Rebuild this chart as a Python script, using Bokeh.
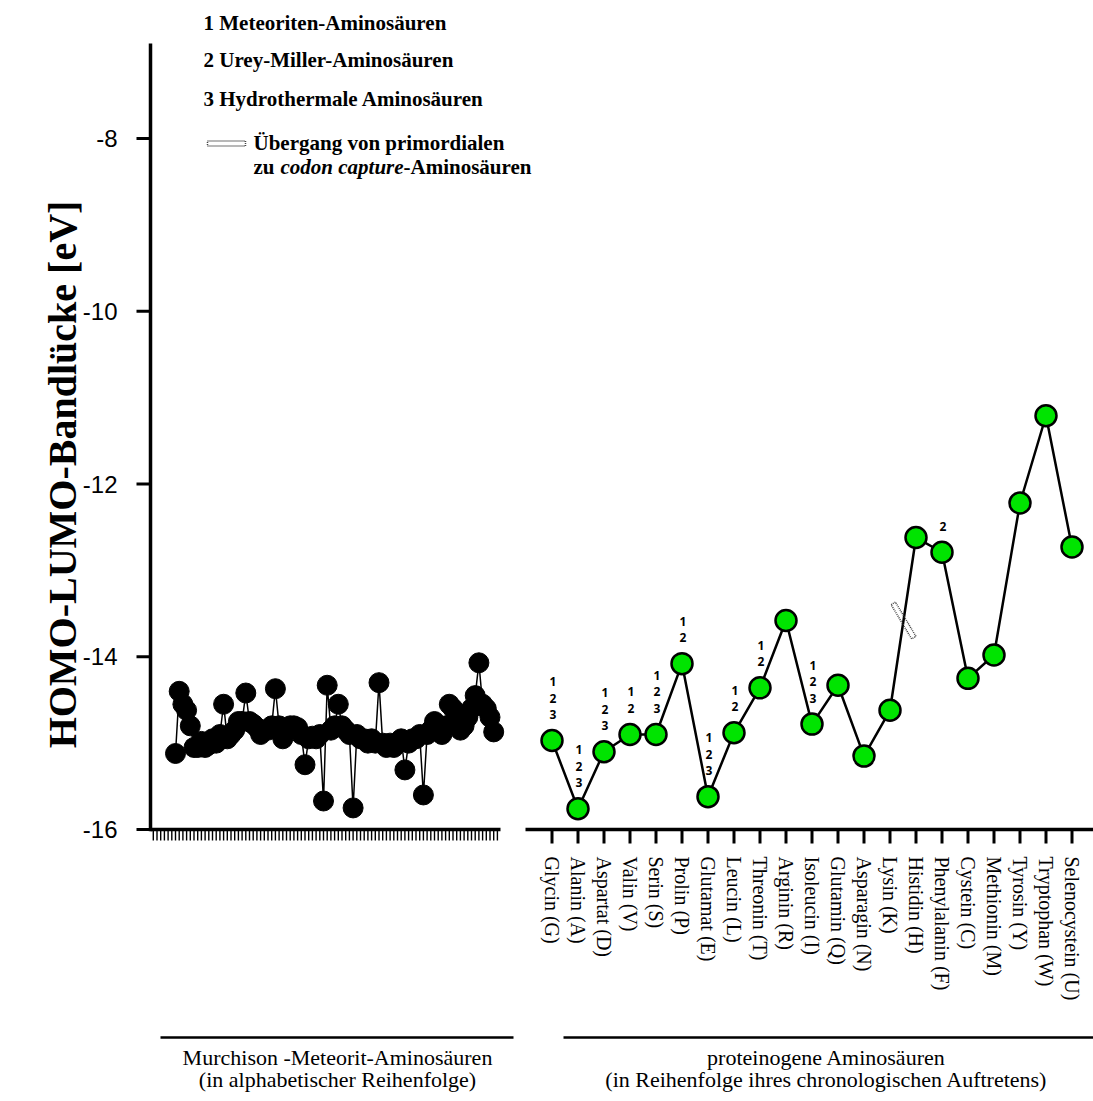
import math
from bokeh.plotting import figure
from bokeh.models import Range1d, Label, ColumnDataSource
from bokeh.embed import file_html
from bokeh.resources import INLINE
from bokeh.core.properties import value

# ---------------- data ----------------
murchison_gap = [
    -15.12, -14.40, -14.55, -14.62, -14.80, -15.05, -15.05, -14.98, -15.05, -15.02,
    -14.95, -15.00, -14.90, -14.55, -14.95, -14.90, -14.85, -14.75, -14.75, -14.42,
    -14.75, -14.78, -14.82, -14.90, -14.85, -14.85, -14.80, -14.37, -14.80, -14.95,
    -14.85, -14.80, -14.80, -14.82, -14.90, -15.25, -14.95, -14.92, -14.95, -14.90,
    -15.67, -14.33, -14.85, -14.80, -14.55, -14.80, -14.85, -14.90, -15.75, -14.90,
    -14.95, -14.95, -15.00, -14.95, -15.00, -14.30, -15.00, -15.05, -15.00, -15.05,
    -15.00, -14.95, -15.31, -15.00, -14.95, -14.95, -14.90, -15.60, -14.90, -14.85,
    -14.75, -14.85, -14.90, -14.80, -14.55, -14.60, -14.70, -14.85, -14.80, -14.70,
    -14.60, -14.45, -14.07, -14.55, -14.60, -14.70, -14.87,
]
murchison_ticks = 94

amino_names = [
    "Glycin (G)", "Alanin (A)", "Aspartat (D)", "Valin (V)", "Serin (S)", "Prolin (P)",
    "Glutamat (E)", "Leucin (L)", "Threonin (T)", "Arginin (R)", "Isoleucin (I)",
    "Glutamin (Q)", "Asparagin (N)", "Lysin (K)", "Histidin (H)", "Phenylalanin (F)",
    "Cystein (C)", "Methionin (M)", "Tyrosin (Y)", "Tryptophan (W)", "Selenocystein (U)",
]
amino_gap = [
    -14.97, -15.76, -15.10, -14.90, -14.90, -14.08, -15.62, -14.88, -14.36, -13.58,
    -14.78, -14.33, -15.15, -14.62, -12.62, -12.79, -14.25, -13.98, -12.22, -11.21, -12.73,
]
origin_marks = [
    "123", "123", "123", "12", "123", "12", "123", "12", "12",
    "", "123", "", "", "", "", "2", "", "", "", "", "",
]
transition_after = 13  # between Lysin and Histidin
y_ticks = [-16, -14, -12, -10, -8]
y_axis_top = -6.9

legend_lines = ["1 Meteoriten-Aminosäuren", "2 Urey-Miller-Aminosäuren", "3 Hydrothermale Aminosäuren"]
legend_trans_1 = "Übergang von primordialen"
legend_trans_2 = ["zu ", "codon capture", "-Aminosäuren"]
y_title = "HOMO-LUMO-Bandlücke [eV]"
group_left = ["Murchison -Meteorit-Aminosäuren", "(in alphabetischer Reihenfolge)"]
group_right = ["proteinogene Aminosäuren", "(in Reihenfolge ihres chronologischen Auftretens)"]

# ---------------- layout helpers (page pixels -> data) ----------------
W, H = 1093, 1100
X0_PAGE, X_STEP = 551.5, 26.0
Y_BASE_PAGE, Y_PX = 829.0, 86.375
AXIS_X = 150
MARK_GAP, MARK_STEP = 26, 16.5


def px2x(px):
    return (px - X0_PAGE) / X_STEP


def px2y(py):
    return -16 + (Y_BASE_PAGE - py) / Y_PX


p = figure(width=W, height=H, x_range=Range1d(px2x(0), px2x(W)),
           y_range=Range1d(px2y(H), px2y(0)),
           x_axis_location=None, y_axis_location=None,
           toolbar_location=None, output_backend="svg",
           min_border=0)
p.outline_line_color = None
p.grid.grid_line_color = None
p.background_fill_color = "white"
p.border_fill_color = "white"

SERIF = value("Liberation Serif")

# ---------------- y axis (drawn) ----------------
ax = px2x(AXIS_X)
p.segment(x0=[ax], y0=[-16 - 1.75 / Y_PX], x1=[ax], y1=[y_axis_top],
          line_color="black", line_width=3.5)
p.segment(x0=[px2x(AXIS_X - 14)] * len(y_ticks), y0=y_ticks,
          x1=[ax] * len(y_ticks), y1=y_ticks, line_color="black", line_width=3)
p.text(x=[ax] * len(y_ticks), y=y_ticks, text=[str(t) for t in y_ticks], x_offset=-33,
       text_align="right", text_baseline="middle", text_font=value("Liberation Sans"),
       text_font_size=value("24px"), text_color="black")
p.add_layout(Label(x=px2x(62), y=px2y(474), text=y_title, angle=math.pi / 2,
                   text_align="center", text_baseline="middle",
                   text_font="Liberation Serif", text_font_style="bold",
                   text_font_size="40px", text_color="black"))

# ---------------- Murchison section ----------------
m_step = 3.7 / X_STEP
m_start = px2x(175)
mx = [m_start + i * m_step for i in range(len(murchison_gap))]
msrc = ColumnDataSource(dict(x=mx, y=murchison_gap))
p.line("x", "y", source=msrc, line_color="black", line_width=1.5)
p.scatter("x", "y", source=msrc, size=20, fill_color="black", line_color="black")

m_tick_x = [m_start + (k - 6) * m_step for k in range(murchison_ticks)]
tick_len_small = 11 / Y_PX
p.segment(x0=m_tick_x, y0=[-16] * len(m_tick_x), x1=m_tick_x,
          y1=[-16 - tick_len_small] * len(m_tick_x), line_color="black", line_width=1.4)
p.segment(x0=[ax], y0=[-16], x1=[px2x(500)], y1=[-16], line_color="black", line_width=3.5)

# ---------------- proteinogenic section ----------------
gx = list(range(len(amino_names)))
gsrc = ColumnDataSource(dict(x=gx, y=amino_gap, name=amino_names))
p.line("x", "y", source=gsrc, line_color="black", line_width=2.5)
p.scatter("x", "y", source=gsrc, size=21, fill_color="#00e400", line_color="black", line_width=2.5)

# origin digits stacked above the points (one glyph row per digit)
dx, dy, dt, doff = [], [], [], []
for i, mark in enumerate(origin_marks):
    for j, d in enumerate(reversed(mark)):
        dx.append(gx[i])
        dy.append(amino_gap[i])
        dt.append(d)
        doff.append(-(MARK_GAP + MARK_STEP * j))
dsrc = ColumnDataSource(dict(x=dx, y=dy, t=dt, off=doff))
p.text("x", "y", text="t", source=dsrc, y_offset="off", x_offset=1,
       text_align="center", text_baseline="middle",
       text_font=value("Open Sans"), text_font_style="bold",
       text_font_size=value("12px"), text_color="black")

tick_len = 14 / Y_PX
p.segment(x0=gx, y0=[-16] * len(gx), x1=gx, y1=[-16 - tick_len] * len(gx),
          line_color="black", line_width=3)
p.segment(x0=[px2x(525)], y0=[-16], x1=[px2x(W)], y1=[-16],
          line_color="black", line_width=3.5)
p.text("x", -16, text="name", source=gsrc, angle=-math.pi / 2, y_offset=27,
       text_align="left", text_baseline="middle",
       text_font=SERIF, text_font_size=value("20px"), text_color="black")

# transition marker on the Lysin -> Histidin segment
i0 = transition_after
t = 0.52
tx = i0 + t
ty = amino_gap[i0] + t * (amino_gap[i0 + 1] - amino_gap[i0])
p.rect(x=[tx], y=[ty], width=5, height=40, width_units="screen", height_units="screen",
       angle=0.54, fill_color=None, line_color="#444444", line_dash="1 1", line_width=1.5)

# ---------------- legend ----------------
for txt, py in zip(legend_lines, [22, 59, 98]):
    p.add_layout(Label(x=px2x(203), y=px2y(py), text=txt, text_align="left",
                       text_baseline="middle", text_font="Liberation Serif",
                       text_font_style="bold", text_font_size="21px", text_color="black"))
p.rect(x=[px2x(226)], y=[px2y(143)], width=38, height=5, width_units="screen",
       height_units="screen", fill_color=None, line_color="#444444", line_dash="1 1", line_width=1.5)
p.add_layout(Label(x=px2x(253), y=px2y(142), text=legend_trans_1, text_align="left",
                   text_baseline="middle", text_font="Liberation Serif",
                   text_font_style="bold", text_font_size="21px", text_color="black"))
for txt, px, style in zip(legend_trans_2, [253, 280, 403], ["bold", "bold italic", "bold"]):
    p.add_layout(Label(x=px2x(px), y=px2y(166), text=txt, text_align="left",
                       text_baseline="middle", text_font="Liberation Serif",
                       text_font_style=style, text_font_size="21px", text_color="black"))

# ---------------- group brackets ----------------
p.segment(x0=[px2x(160), px2x(563)], y0=[px2y(1037)] * 2,
          x1=[px2x(513), px2x(W)], y1=[px2y(1037)] * 2,
          line_color="black", line_width=2.5)
for lines, cx in [(group_left, 337), (group_right, 826)]:
    for txt, py in zip(lines, [1057, 1079]):
        p.add_layout(Label(x=px2x(cx), y=px2y(py), text=txt, text_align="center",
                           text_baseline="middle", text_font="Liberation Serif",
                           text_font_size="22px", text_color="black"))

open("out.html", "w").write(file_html(p, INLINE))
